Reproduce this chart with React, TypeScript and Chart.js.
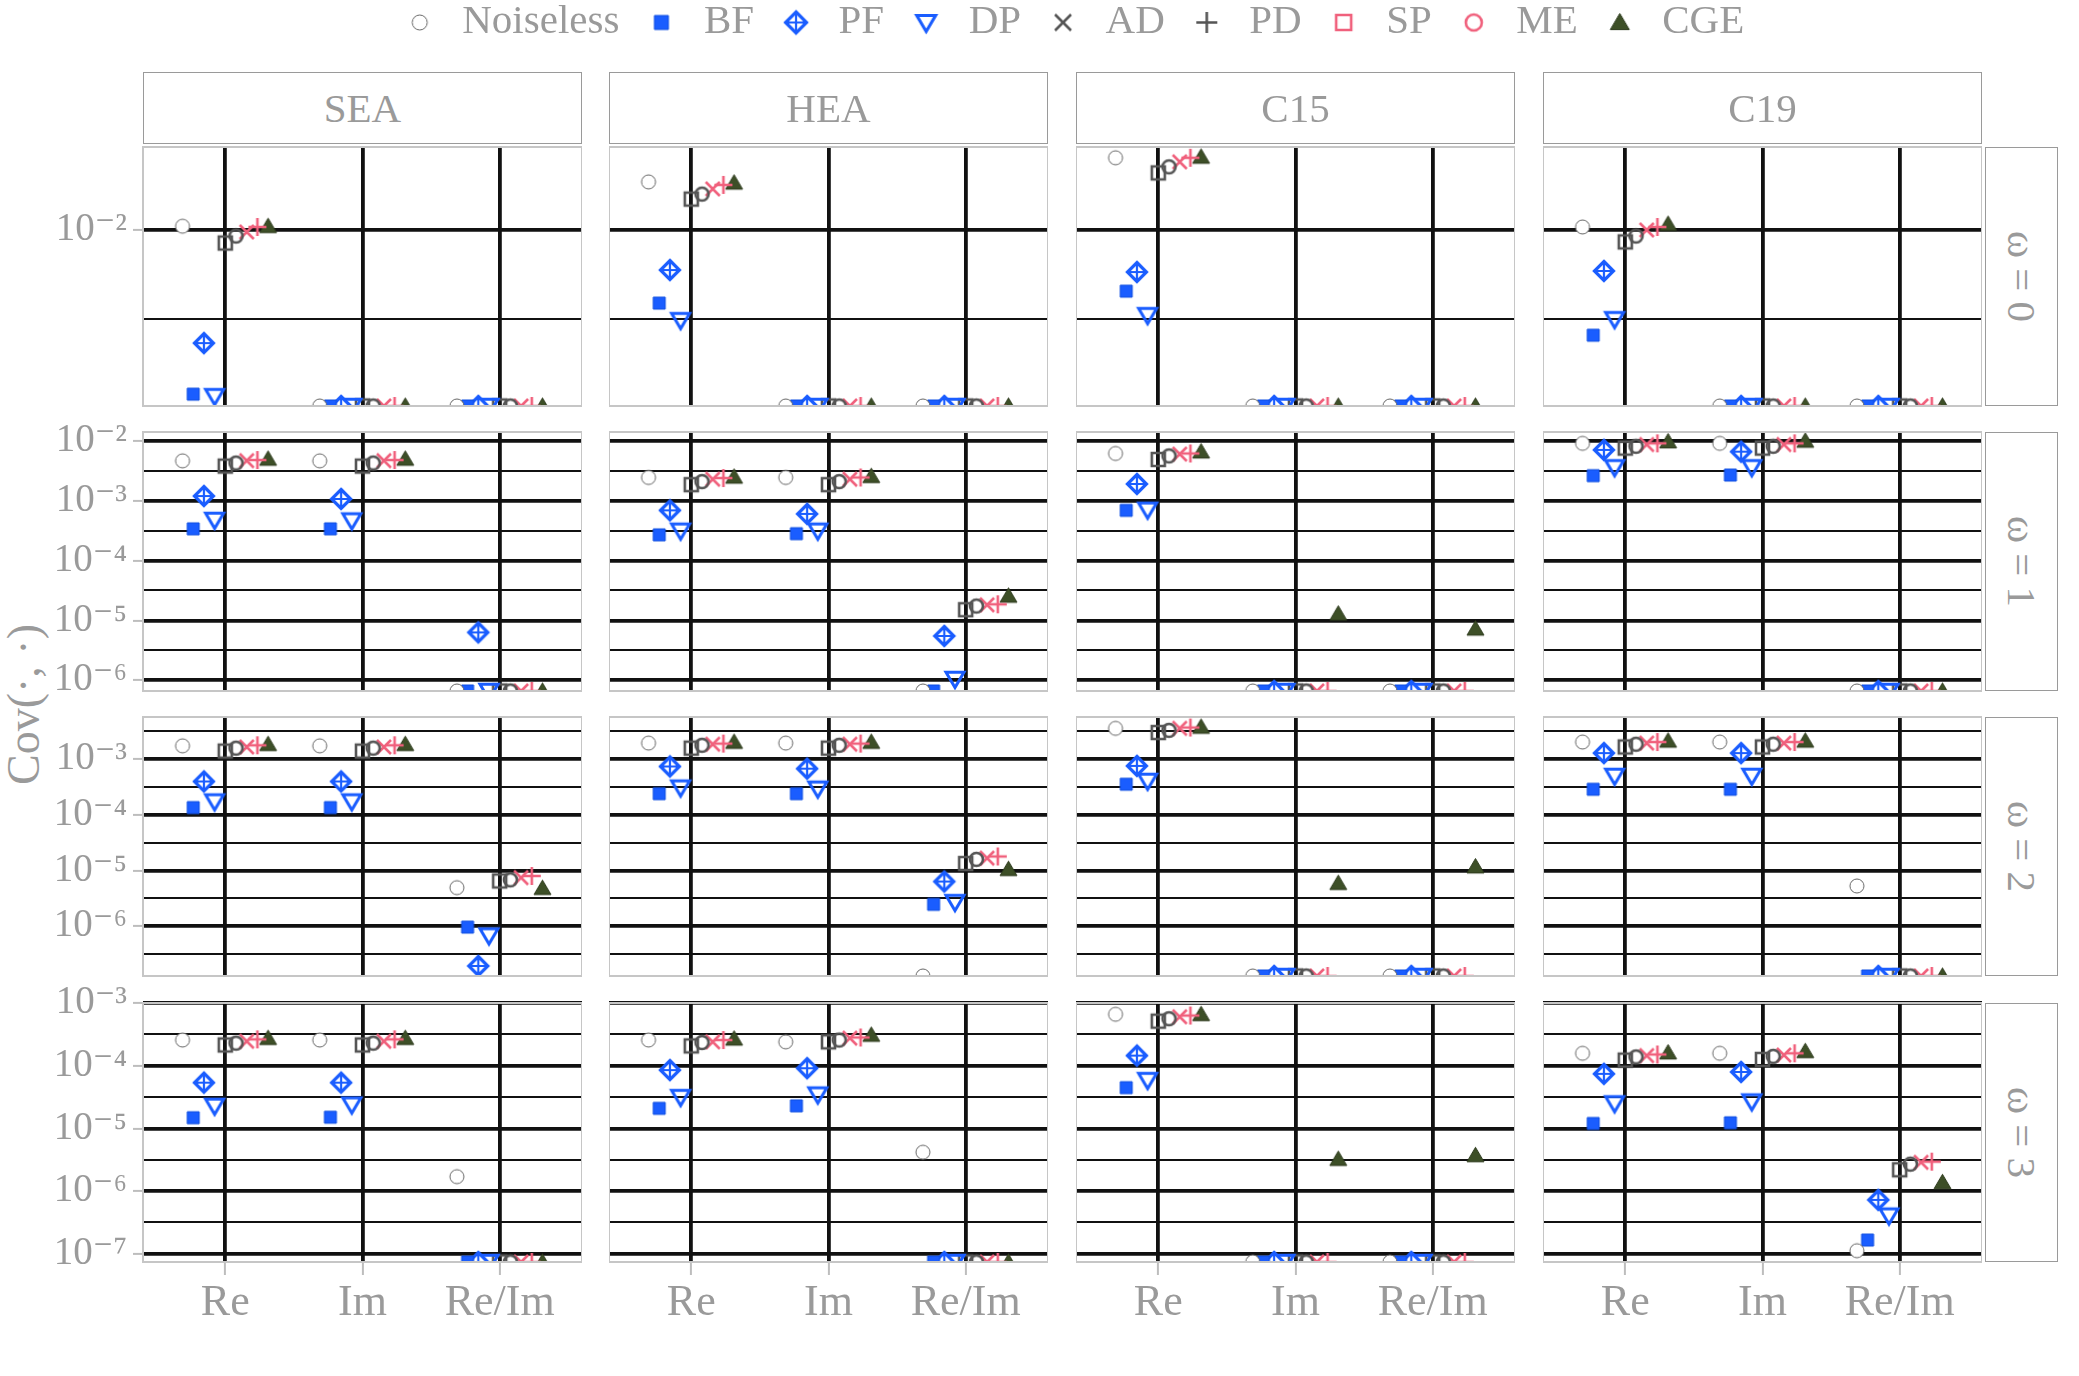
import React, { useEffect, useRef } from 'react';
import { Chart, registerables } from 'chart.js';

Chart.register(...registerables);

// ---------------- data ----------------
const facetColumns = ['SEA', 'HEA', 'C15', 'C19'];
const facetRows = ['ω = 0', 'ω = 1', 'ω = 2', 'ω = 3'];
const categories = ['Re', 'Im', 'Re/Im'];
const legendNames = ['Noiseless', 'BF', 'PF', 'DP', 'AD', 'PD', 'SP', 'ME', 'CGE'];
const plotNames = ['Noiseless', 'BF', 'PF', 'DP', 'SP', 'ME', 'AD', 'PD', 'CGE'];

// y-axis range of each ω row (log scale)
const yMin = [1.03e-3, 6.61e-7, 1.26e-7, 7.41e-8];
const yMax = [2.92e-2, 1.41e-2, 5.75e-3, 1.0e-3];
// tick exponents (labelled decades and unlabelled half-decade lines)
const yMajorExp = [[-2], [-6, -5, -4, -3, -2], [-6, -5, -4, -3], [-7, -6, -5, -4, -3]];
const yMinorExp = [[-2.5], [-5.5, -4.5, -3.5, -2.5], [-6.5, -5.5, -4.5, -3.5, -2.5], [-6.5, -5.5, -4.5, -3.5]];

// values[ω row][column SEA,HEA,C15,C19][Re, Im, Re/Im]; 0 = zero covariance (drawn at panel floor)
const noiseless = [
  [[1.05e-2, 0, 0], [1.86e-2, 0, 0], [2.54e-2, 0, 0], [1.04e-2, 0, 0]],
  [[4.65e-3, 4.65e-3, 0], [2.45e-3, 2.45e-3, 0], [6.17e-3, 0, 0], [9.12e-3, 9.12e-3, 0]],
  [[1.74e-3, 1.74e-3, 4.9e-6], [1.95e-3, 1.95e-3, 0], [3.59e-3, 0, 0], [2.04e-3, 2.04e-3, 5.25e-6]],
  [[2.57e-4, 2.57e-4, 1.7e-6], [2.57e-4, 2.4e-4, 4.17e-6], [6.61e-4, 0, 0], [1.58e-4, 1.58e-4, 1.12e-7]],
];
const BF = [
  [[1.2e-3, 0, 0], [3.89e-3, 0, 0], [4.54e-3, 0, 0], [2.57e-3, 0, 0]],
  [[3.39e-4, 3.39e-4, 0], [2.69e-4, 2.82e-4, 0], [6.92e-4, 0, 0], [2.63e-3, 2.69e-3, 0]],
  [[1.35e-4, 1.35e-4, 9.55e-7], [2.4e-4, 2.4e-4, 2.45e-6], [3.55e-4, 0, 0], [2.88e-4, 2.88e-4, 0]],
  [[1.48e-5, 1.51e-5, 0], [2.09e-5, 2.29e-5, 0], [4.47e-5, 0, 0], [1.2e-5, 1.23e-5, 1.66e-7]],
];
const PF = [
  [[2.32e-3, 0, 0], [5.96e-3, 0, 0], [5.81e-3, 0, 0], [5.89e-3, 0, 0]],
  [[1.2e-3, 1.07e-3, 6.31e-6], [6.92e-4, 6.03e-4, 5.5e-6], [1.91e-3, 0, 0], [7.08e-3, 6.61e-3, 0]],
  [[3.98e-4, 3.98e-4, 1.91e-7], [7.41e-4, 6.76e-4, 6.31e-6], [7.59e-4, 0, 0], [1.29e-3, 1.29e-3, 0]],
  [[5.37e-5, 5.37e-5, 0], [8.51e-5, 9.12e-5, 0], [1.45e-4, 0, 0], [7.41e-5, 7.94e-5, 7.24e-7]],
];
const DP = [
  [[1.17e-3, 0, 0], [3.12e-3, 0, 0], [3.33e-3, 0, 0], [3.16e-3, 0, 0]],
  [[4.79e-4, 4.68e-4, 0], [3.16e-4, 3.16e-4, 1.05e-6], [7.08e-4, 0, 0], [3.63e-3, 3.63e-3, 0]],
  [[1.74e-4, 1.74e-4, 6.76e-7], [3.09e-4, 2.95e-4, 2.69e-6], [4.07e-4, 0, 0], [5.01e-4, 5.01e-4, 0]],
  [[2.29e-5, 2.4e-5, 0], [3.16e-5, 3.47e-5, 0], [5.89e-5, 0, 0], [2.51e-5, 2.69e-5, 4.07e-7]],
];
const SP = [
  [[8.45e-3, 0, 0], [1.49e-2, 0, 0], [2.09e-2, 0, 0], [8.57e-3, 0, 0]],
  [[3.8e-3, 3.8e-3, 0], [1.86e-3, 1.86e-3, 1.51e-5], [4.9e-3, 0, 0], [7.59e-3, 7.59e-3, 0]],
  [[1.4e-3, 1.4e-3, 6.46e-6], [1.58e-3, 1.58e-3, 1.33e-5], [3.02e-3, 0, 0], [1.66e-3, 1.66e-3, 0]],
  [[2.14e-4, 2.14e-4, 0], [2.07e-4, 2.4e-4, 0], [5.13e-4, 0, 0], [1.23e-4, 1.26e-4, 2.19e-6]],
];
const ME = [
  [[9.25e-3, 0, 0], [1.59e-2, 0, 0], [2.26e-2, 0, 0], [9.25e-3, 0, 0]],
  [[4.27e-3, 4.27e-3, 0], [2.09e-3, 2.09e-3, 1.74e-5], [5.62e-3, 0, 0], [8.13e-3, 8.13e-3, 0]],
  [[1.58e-3, 1.58e-3, 6.76e-6], [1.78e-3, 1.78e-3, 1.58e-5], [3.31e-3, 0, 0], [1.86e-3, 1.86e-3, 0]],
  [[2.29e-4, 2.29e-4, 0], [2.34e-4, 2.57e-4, 0], [5.62e-4, 0, 0], [1.38e-4, 1.41e-4, 2.69e-6]],
];
const AD = [
  [[9.75e-3, 0, 0], [1.7e-2, 0, 0], [2.41e-2, 0, 0], [1.0e-2, 0, 0]],
  [[4.68e-3, 4.68e-3, 0], [2.29e-3, 2.29e-3, 1.82e-5], [6.03e-3, 0, 0], [8.71e-3, 8.71e-3, 0]],
  [[1.66e-3, 1.66e-3, 7.41e-6], [1.86e-3, 1.86e-3, 1.66e-5], [3.59e-3, 0, 0], [1.95e-3, 1.95e-3, 0]],
  [[2.45e-4, 2.45e-4, 0], [2.4e-4, 2.75e-4, 0], [6.03e-4, 0, 0], [1.45e-4, 1.48e-4, 2.88e-6]],
];
const PD = [
  [[1.04e-2, 0, 0], [1.79e-2, 0, 0], [2.54e-2, 0, 0], [1.04e-2, 0, 0]],
  [[4.79e-3, 4.79e-3, 0], [2.4e-3, 2.45e-3, 1.86e-5], [6.17e-3, 0, 0], [9.12e-3, 9.12e-3, 0]],
  [[1.78e-3, 1.78e-3, 7.94e-6], [1.91e-3, 1.91e-3, 1.78e-5], [3.72e-3, 0, 0], [2.04e-3, 2.04e-3, 0]],
  [[2.63e-4, 2.63e-4, 0], [2.57e-4, 2.82e-4, 0], [6.31e-4, 0, 0], [1.51e-4, 1.58e-4, 2.95e-6]],
];
const CGE = [
  [[1.05e-2, 0, 0], [1.84e-2, 0, 0], [2.57e-2, 0, 0], [1.08e-2, 0, 0]],
  [[5.01e-3, 5.01e-3, 0], [2.51e-3, 2.57e-3, 2.57e-5], [6.61e-3, 1.29e-5, 7.24e-6], [9.77e-3, 1.0e-2, 0]],
  [[1.86e-3, 1.86e-3, 4.79e-6], [2.04e-3, 2.04e-3, 1.05e-5], [3.8e-3, 5.89e-6, 1.17e-5], [2.14e-3, 2.14e-3, 0]],
  [[2.75e-4, 2.75e-4, 0], [2.69e-4, 3.09e-4, 0], [6.61e-4, 3.24e-6, 3.72e-6], [1.62e-4, 1.7e-4, 1.38e-6]],
];
const plotSeries = [noiseless, BF, PF, DP, SP, ME, AD, PD, CGE];

// ---------------- styles / layout ----------------
const FONT = '"Liberation Serif", "DejaVu Serif", serif';
const GREY = '#9a9a9a';
const BLUE = '#1a5dff';
const PINK = '#f0607c';
const DARK = '#555555';
const OLIVE = '#3d4f27';

const plotMarkerSpec = [
  ['circle', '#666', '#fff', 1, 14],
  ['square', '#0f4fe0', BLUE, 1, 12],
  ['diamondPlus', BLUE, '#fff', 3.2, 19],
  ['triDown', BLUE, 'none', 3, 18],
  ['square', DARK, 'none', 2.6, 13],
  ['circle', DARK, 'none', 2.6, 13],
  ['x', PINK, 'none', 2.6, 14],
  ['plus', PINK, 'none', 2.6, 18],
  ['triUp', '#2e3b1e', OLIVE, 1, 17],
];
const legendMarkerSpec = [
  ['circle', '#666', '#fff', 1, 15],
  ['square', '#0f4fe0', BLUE, 1, 14],
  ['diamondPlus', BLUE, '#fff', 3.2, 21],
  ['triDown', BLUE, 'none', 3, 19],
  ['x', DARK, 'none', 2.6, 16],
  ['plus', DARK, 'none', 2.6, 21],
  ['square', PINK, 'none', 2.6, 15],
  ['circle', PINK, 'none', 2.6, 16],
  ['triUp', '#2e3b1e', OLIVE, 1, 19],
];

const colLeft = [143, 609, 1076, 1543];
const rowTop = [147, 432, 717, 1003];
const PW = 439;
const PH = 259;
const PAD = 30;
const YAXIS_W = 143;
const XAXIS_H = 80;
const DODGE = 0.078;
const MAJOR_LW = 3.8;
const MINOR_LW = 2.0;

function makeMarker(kind: string, stroke: string, fill: string, lw: number, size: number) {
  const dim = Math.ceil(size + lw * 2 + 4);
  const c = document.createElement('canvas');
  c.width = dim;
  c.height = dim;
  const ctx = c.getContext('2d') as CanvasRenderingContext2D;
  const m = dim / 2;
  const h = size / 2;
  ctx.lineWidth = lw;
  ctx.strokeStyle = stroke;
  ctx.fillStyle = fill;
  ctx.lineJoin = 'miter';
  ctx.lineCap = 'butt';
  ctx.beginPath();
  if (kind === 'circle') ctx.arc(m, m, h, 0, Math.PI * 2);
  else if (kind === 'square') ctx.rect(m - h, m - h, size, size);
  else if (kind === 'triUp') {
    ctx.moveTo(m, m - h * 0.95);
    ctx.lineTo(m + h, m + h * 0.75);
    ctx.lineTo(m - h, m + h * 0.75);
    ctx.closePath();
  } else if (kind === 'triDown') {
    ctx.moveTo(m - h, m - h * 0.75);
    ctx.lineTo(m + h, m - h * 0.75);
    ctx.lineTo(m, m + h * 0.95);
    ctx.closePath();
  } else if (kind === 'diamondPlus') {
    ctx.moveTo(m, m - h);
    ctx.lineTo(m + h, m);
    ctx.lineTo(m, m + h);
    ctx.lineTo(m - h, m);
    ctx.closePath();
  } else if (kind === 'plus') {
    ctx.moveTo(m - h, m);
    ctx.lineTo(m + h, m);
    ctx.moveTo(m, m - h);
    ctx.lineTo(m, m + h);
  } else if (kind === 'x') {
    ctx.moveTo(m - h, m - h);
    ctx.lineTo(m + h, m + h);
    ctx.moveTo(m + h, m - h);
    ctx.lineTo(m - h, m + h);
  }
  if (fill !== 'none') ctx.fill();
  if (lw > 0) ctx.stroke();
  if (kind === 'diamondPlus') {
    ctx.beginPath();
    ctx.lineWidth = 2.2;
    ctx.moveTo(m - h, m);
    ctx.lineTo(m + h, m);
    ctx.moveTo(m, m - h);
    ctx.lineTo(m, m + h);
    ctx.stroke();
  }
  return c;
}

const SUP: Record<string, string> = { '-': '⁻', '0': '⁰', '1': '¹', '2': '²', '3': '³', '4': '⁴', '5': '⁵', '6': '⁶', '7': '⁷', '8': '⁸', '9': '⁹' };
function powLabel(e: number) {
  return '10' + String(e).split('').map((ch) => SUP[ch] || ch).join('');
}

const panelBorder = {
  id: 'panelBorder',
  afterDraw(chart: any) {
    const { ctx, chartArea: a } = chart;
    ctx.save();
    ctx.strokeStyle = '#c6c6c6';
    ctx.lineWidth = 2;
    ctx.strokeRect(a.left, a.top, a.right - a.left, a.bottom - a.top);
    ctx.restore();
  },
};

function isMajorTick(t: any) {
  return t && t.mj;
}

function makePanel(canvas: HTMLCanvasElement, r: number, c: number, markers: HTMLCanvasElement[]) {
  const showY = c === 0;
  const showX = r === 3;
  const datasets = plotSeries.map((vals, i) => ({
    label: plotNames[i],
    data: vals[r][c].map((v, k) => ({ x: k + 1 + (i - 4) * DODGE, y: v > 0 ? v : yMin[r] })),
    pointStyle: markers[i],
    pointRadius: 8,
    pointHoverRadius: 8,
    showLine: false,
    clip: 0,
  }));
  const yTicks = [
    ...yMajorExp[r].map((e) => ({ value: Math.pow(10, e), mj: true, e })),
    ...yMinorExp[r].map((e) => ({ value: Math.pow(10, e), mj: false, e })),
  ].sort((a, b) => a.value - b.value);

  return new Chart(canvas, {
    type: 'scatter',
    data: { datasets } as any,
    options: {
      animation: false,
      responsive: false,
      maintainAspectRatio: false,
      devicePixelRatio: 1,
      events: [],
      layout: { autoPadding: false, padding: { top: PAD, bottom: showX ? 0 : PAD, left: 0, right: 0 } },
      plugins: { legend: { display: false }, tooltip: { enabled: false } },
      scales: {
        x: {
          type: 'linear',
          min: 0.4,
          max: 3.6,
          afterBuildTicks: (s: any) => {
            s.ticks = categories.map((_, k) => ({ value: k + 1 }));
          },
          afterFit: (s: any) => {
            s.height = showX ? XAXIS_H : 0;
          },
          ticks: {
            display: showX,
            autoSkip: false,
            maxRotation: 0,
            padding: 2,
            color: GREY,
            font: { family: FONT, size: 44 },
            callback: (_v: any, i: number) => categories[i],
          },
          grid: {
            display: true,
            color: '#111',
            lineWidth: MAJOR_LW,
            drawTicks: showX,
            tickLength: 13,
            tickColor: '#bdbdbd',
            tickWidth: 2,
          },
          border: { display: false },
        },
        y: {
          type: 'logarithmic',
          min: yMin[r],
          max: yMax[r],
          afterBuildTicks: (s: any) => {
            s.ticks = yTicks.map((t) => ({ ...t }));
          },
          afterFit: (s: any) => {
            s.width = showY ? YAXIS_W : 0;
          },
          ticks: {
            display: showY,
            autoSkip: false,
            padding: 6,
            color: GREY,
            font: { family: FONT, size: 39 },
            callback: (_v: any, i: number, ticks: any[]) => (ticks[i].mj ? powLabel(ticks[i].e) : ''),
          },
          grid: {
            display: true,
            color: '#111',
            lineWidth: (ctx: any) => (isMajorTick(ctx.tick) ? MAJOR_LW : MINOR_LW),
            drawTicks: showY,
            tickLength: 10,
            tickWidth: 2,
            tickColor: (ctx: any) => (isMajorTick(ctx.tick) ? '#bdbdbd' : 'rgba(0,0,0,0)'),
          },
          border: { display: false },
        },
      },
    } as any,
    plugins: [panelBorder],
  });
}

function makeLegend(canvas: HTMLCanvasElement, markers: HTMLCanvasElement[]) {
  return new Chart(canvas, {
    type: 'scatter',
    data: { datasets: legendNames.map((n) => ({ label: n, data: [] })) } as any,
    options: {
      animation: false,
      responsive: false,
      maintainAspectRatio: false,
      devicePixelRatio: 1,
      events: [],
      layout: { padding: 0 },
      scales: { x: { display: false }, y: { display: false } },
      plugins: {
        tooltip: { enabled: false },
        legend: {
          display: true,
          position: 'top',
          align: 'center',
          maxHeight: 120,
          labels: {
            usePointStyle: true,
            pointStyleWidth: 44,
            boxHeight: 20,
            padding: 20,
            color: GREY,
            font: { family: FONT, size: 41 },
            generateLabels: (chart: any) =>
              chart.data.datasets.map((d: any, i: number) => ({
                text: d.label,
                pointStyle: markers[i],
                fillStyle: 'rgba(0,0,0,0)',
                strokeStyle: 'rgba(0,0,0,0)',
                lineWidth: 0,
                hidden: false,
                datasetIndex: i,
                fontColor: GREY,
              })),
          },
        },
      },
    } as any,
  });
}

export default function App() {
  const legendRef = useRef<HTMLCanvasElement | null>(null);
  const panelRefs = useRef<(HTMLCanvasElement | null)[]>([]);

  useEffect(() => {
    const charts: Chart[] = [];
    const plotMarkers = plotMarkerSpec.map((s: any) => makeMarker(s[0], s[1], s[2], s[3], s[4]));
    const legendMarkers = legendMarkerSpec.map((s: any) => makeMarker(s[0], s[1], s[2], s[3], s[4]));
    if (legendRef.current) charts.push(makeLegend(legendRef.current, legendMarkers));
    for (let r = 0; r < 4; r++) {
      for (let c = 0; c < 4; c++) {
        const cv = panelRefs.current[r * 4 + c];
        if (cv) charts.push(makePanel(cv, r, c, plotMarkers));
      }
    }
    return () => charts.forEach((ch) => ch.destroy());
  }, []);

  const panels: any[] = [];
  for (let r = 0; r < 4; r++) {
    for (let c = 0; c < 4; c++) {
      const left = c === 0 ? colLeft[0] - YAXIS_W : colLeft[c];
      const width = c === 0 ? YAXIS_W + PW : PW;
      const top = rowTop[r] - PAD;
      const height = PAD + PH + (r === 3 ? XAXIS_H : PAD);
      const idx = r * 4 + c;
      panels.push(
        <canvas
          key={idx}
          ref={(el) => {
            panelRefs.current[idx] = el;
          }}
          width={width}
          height={height}
          style={{ position: 'absolute', left, top, width, height }}
        />
      );
    }
  }

  return (
    <div style={{ position: 'absolute', left: 0, top: 0, width: 2079, height: 1376, background: '#fff', fontFamily: FONT, overflow: 'hidden' }}>
      <canvas ref={legendRef} width={2014} height={240} style={{ position: 'absolute', left: 64, top: -18, width: 2014, height: 240 }} />
      {facetColumns.map((name, c) => (
        <div
          key={name}
          style={{
            position: 'absolute', left: colLeft[c], top: 72, width: PW, height: 72, boxSizing: 'border-box',
            border: '1.5px solid #9a9a9a', background: '#fff', display: 'flex', alignItems: 'center',
            justifyContent: 'center', fontSize: 41, color: GREY,
          }}
        >
          {name}
        </div>
      ))}
      {facetRows.map((name, r) => (
        <div
          key={name}
          style={{
            position: 'absolute', left: 1985, top: rowTop[r], width: 73, height: PH, boxSizing: 'border-box',
            border: '1.5px solid #9a9a9a', background: '#fff', display: 'flex', alignItems: 'center',
            justifyContent: 'center', fontSize: 41, color: GREY,
          }}
        >
          <span style={{ writingMode: 'vertical-rl', textOrientation: 'sideways', whiteSpace: 'nowrap' } as any}>{name}</span>
        </div>
      ))}
      <div
        style={{
          position: 'absolute', left: 0, top: rowTop[0], width: 46, height: rowTop[3] + PH - rowTop[0],
          display: 'flex', alignItems: 'center', justifyContent: 'center', fontSize: 46, color: GREY,
        }}
      >
        <span style={{ writingMode: 'vertical-rl', transform: 'rotate(180deg)', whiteSpace: 'nowrap' } as any}>Cov(·, ·)</span>
      </div>
      {panels}
    </div>
  );
}
